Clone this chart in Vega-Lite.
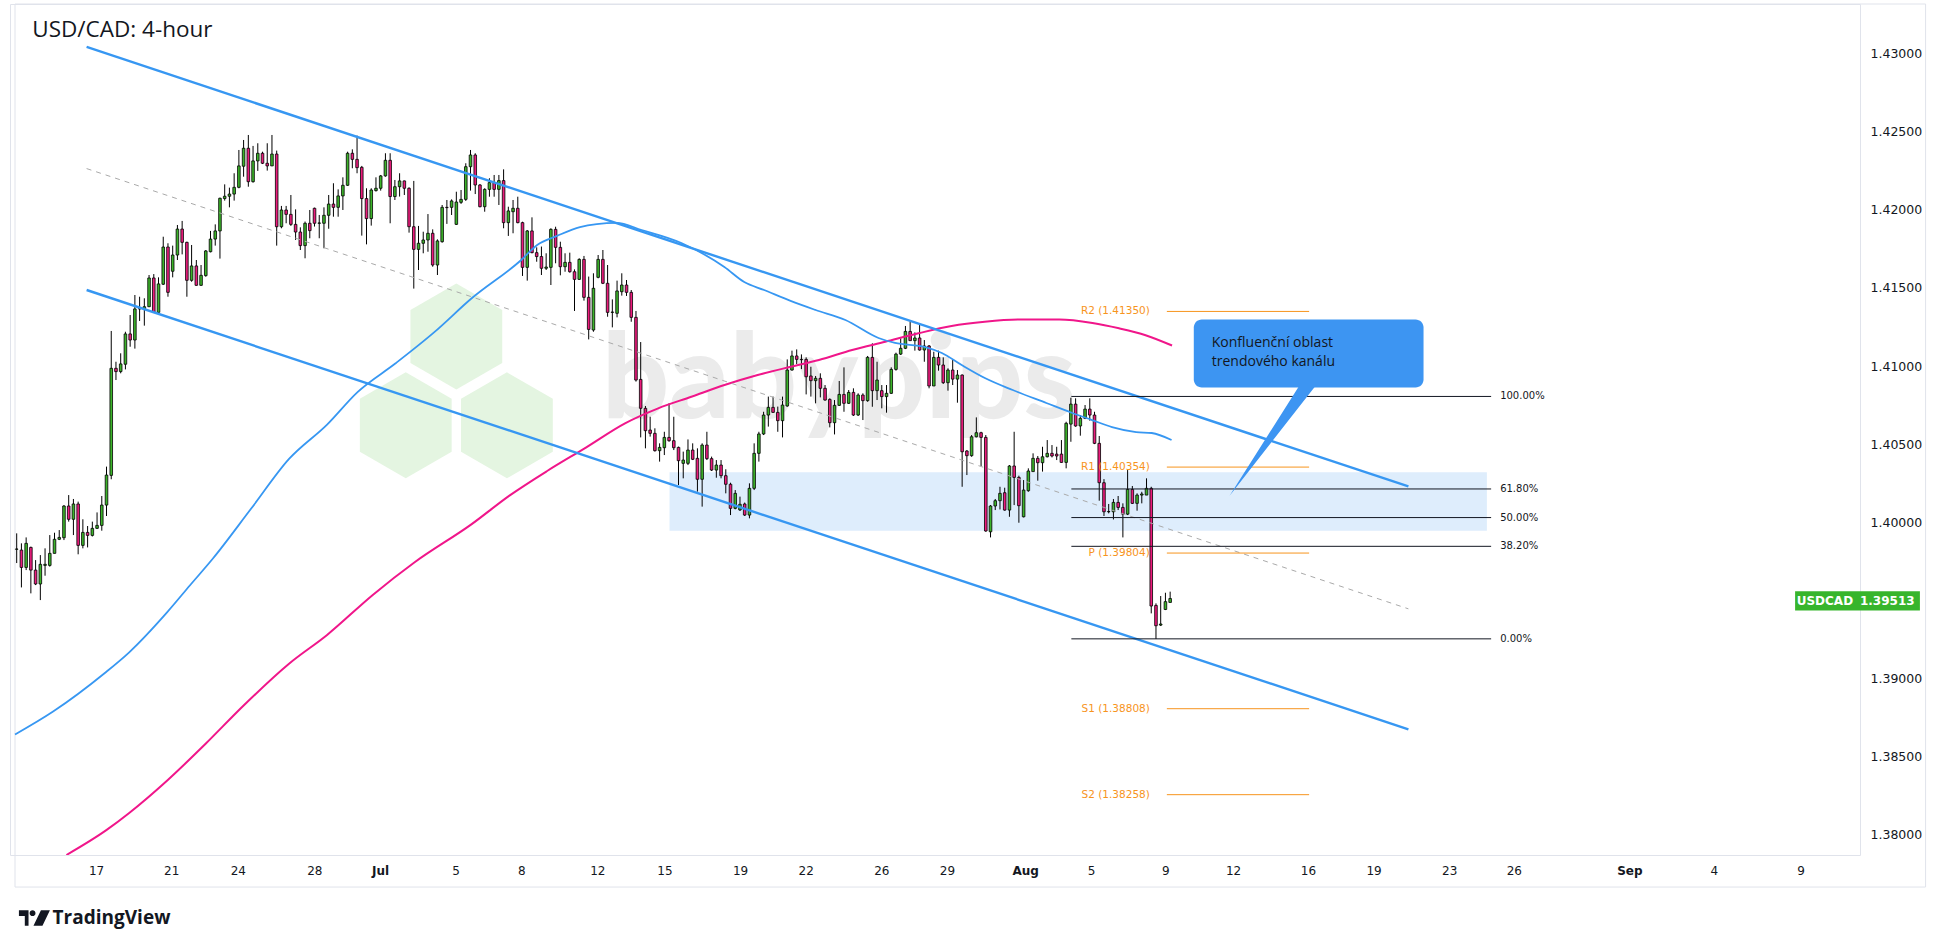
{
  "$schema": "https://vega.github.io/schema/vega-lite/v6.json",
  "width": 1850,
  "height": 851,
  "autosize": {"type": "none"},
  "padding": {"left": 10, "top": 4, "right": 80, "bottom": 93},
  "background": "#ffffff",
  "config": {
    "view": {"stroke": "#e0e3eb", "strokeWidth": 1},
    "font": "DejaVu Sans"
  },
  "datasets": {
    "frame": [{"k": -0.358, "k2": 403.8, "p": 1.43317, "p2": 1.37667}],
    "zone": [{"k": 138.1, "k2": 311.0, "p": 1.40321, "p2": 1.39947}],
    "hex": [{"k": 93.0, "p": 1.41189}, {"k": 82.3, "p": 1.40621}, {"k": 103.7, "p": 1.40621}],
    "mark": [{"k": 173.9, "p": 1.40668, "text": "babypips"}],
    "candles": [
      {"k":0,"o":1.39828,"h":1.3993,"l":1.3974,"c":1.3983},
      {"k":1,"o":1.39823,"h":1.39866,"l":1.39584,"c":1.39712},
      {"k":2,"o":1.39712,"h":1.39904,"l":1.39695,"c":1.39866},
      {"k":3,"o":1.3984,"h":1.39845,"l":1.39546,"c":1.39695},
      {"k":4,"o":1.39695,"h":1.39759,"l":1.39599,"c":1.39606},
      {"k":5,"o":1.39606,"h":1.39791,"l":1.39503,"c":1.39732},
      {"k":6,"o":1.39725,"h":1.39834,"l":1.39659,"c":1.39732},
      {"k":7,"o":1.39725,"h":1.39919,"l":1.39717,"c":1.39802},
      {"k":8,"o":1.39802,"h":1.39934,"l":1.39802,"c":1.39892},
      {"k":9,"o":1.39892,"h":1.39951,"l":1.39887,"c":1.39904},
      {"k":10,"o":1.39902,"h":1.40111,"l":1.39887,"c":1.40105},
      {"k":11,"o":1.40105,"h":1.40175,"l":1.40005,"c":1.4002},
      {"k":12,"o":1.4002,"h":1.4015,"l":1.39919,"c":1.40118},
      {"k":13,"o":1.40118,"h":1.40133,"l":1.39796,"c":1.39853},
      {"k":14,"o":1.39853,"h":1.4002,"l":1.39834,"c":1.39936},
      {"k":15,"o":1.39936,"h":1.39977,"l":1.3984,"c":1.39917},
      {"k":16,"o":1.39917,"h":1.40005,"l":1.3991,"c":1.39962},
      {"k":17,"o":1.39962,"h":1.40064,"l":1.39958,"c":1.39981},
      {"k":18,"o":1.39981,"h":1.40169,"l":1.39947,"c":1.40111},
      {"k":19,"o":1.40111,"h":1.40357,"l":1.40041,"c":1.40303},
      {"k":20,"o":1.40301,"h":1.41225,"l":1.40276,"c":1.40986},
      {"k":21,"o":1.40986,"h":1.41028,"l":1.40911,"c":1.40965},
      {"k":22,"o":1.40965,"h":1.41082,"l":1.40954,"c":1.41014},
      {"k":23,"o":1.41012,"h":1.4122,"l":1.40979,"c":1.41206},
      {"k":24,"o":1.41206,"h":1.41327,"l":1.41124,"c":1.41167},
      {"k":25,"o":1.41167,"h":1.41455,"l":1.41112,"c":1.41366},
      {"k":26,"o":1.41366,"h":1.41444,"l":1.41289,"c":1.41368},
      {"k":27,"o":1.41366,"h":1.41434,"l":1.41259,"c":1.4138},
      {"k":28,"o":1.4138,"h":1.41583,"l":1.41378,"c":1.41564},
      {"k":29,"o":1.41564,"h":1.41589,"l":1.41342,"c":1.41344},
      {"k":30,"o":1.41344,"h":1.41568,"l":1.41342,"c":1.41526},
      {"k":31,"o":1.41524,"h":1.41828,"l":1.41519,"c":1.41762},
      {"k":32,"o":1.41762,"h":1.41786,"l":1.41444,"c":1.41472},
      {"k":33,"o":1.41607,"h":1.41771,"l":1.41568,"c":1.41711},
      {"k":34,"o":1.41711,"h":1.41903,"l":1.41679,"c":1.41877},
      {"k":35,"o":1.41877,"h":1.41929,"l":1.41715,"c":1.41792},
      {"k":36,"o":1.41792,"h":1.41796,"l":1.41444,"c":1.41549},
      {"k":37,"o":1.41549,"h":1.41775,"l":1.4154,"c":1.41641},
      {"k":38,"o":1.41641,"h":1.41679,"l":1.41515,"c":1.41517},
      {"k":39,"o":1.41517,"h":1.41647,"l":1.41513,"c":1.41581},
      {"k":40,"o":1.41579,"h":1.41743,"l":1.41572,"c":1.41737},
      {"k":41,"o":1.41732,"h":1.41865,"l":1.41728,"c":1.41813},
      {"k":42,"o":1.41813,"h":1.41907,"l":1.41771,"c":1.41865},
      {"k":43,"o":1.41865,"h":1.42078,"l":1.41688,"c":1.42074},
      {"k":44,"o":1.42072,"h":1.42163,"l":1.42059,"c":1.42087},
      {"k":45,"o":1.42087,"h":1.42142,"l":1.42016,"c":1.42101},
      {"k":46,"o":1.42101,"h":1.42234,"l":1.42059,"c":1.42144},
      {"k":47,"o":1.42144,"h":1.42383,"l":1.42138,"c":1.42281},
      {"k":48,"o":1.42279,"h":1.42447,"l":1.42212,"c":1.42394},
      {"k":49,"o":1.42394,"h":1.42479,"l":1.42148,"c":1.4218},
      {"k":50,"o":1.4218,"h":1.42409,"l":1.42174,"c":1.42313},
      {"k":51,"o":1.42313,"h":1.42426,"l":1.42249,"c":1.42362},
      {"k":52,"o":1.42362,"h":1.42372,"l":1.42293,"c":1.42298},
      {"k":53,"o":1.42298,"h":1.42426,"l":1.42251,"c":1.42281},
      {"k":54,"o":1.42281,"h":1.42479,"l":1.42281,"c":1.42357},
      {"k":55,"o":1.42357,"h":1.42379,"l":1.41771,"c":1.41892},
      {"k":56,"o":1.41892,"h":1.42025,"l":1.41882,"c":1.41999},
      {"k":57,"o":1.41999,"h":1.42025,"l":1.41914,"c":1.41971},
      {"k":58,"o":1.41971,"h":1.42095,"l":1.41897,"c":1.41907},
      {"k":59,"o":1.41907,"h":1.42003,"l":1.41807,"c":1.41858},
      {"k":60,"o":1.41858,"h":1.41888,"l":1.41743,"c":1.41771},
      {"k":61,"o":1.41771,"h":1.41925,"l":1.4169,"c":1.41914},
      {"k":62,"o":1.41914,"h":1.41999,"l":1.41818,"c":1.41867},
      {"k":63,"o":1.4201,"h":1.42014,"l":1.41893,"c":1.41914},
      {"k":64,"o":1.41914,"h":1.41967,"l":1.41818,"c":1.41916},
      {"k":65,"o":1.41914,"h":1.42016,"l":1.41754,"c":1.41965},
      {"k":66,"o":1.41965,"h":1.42095,"l":1.41879,"c":1.42037},
      {"k":67,"o":1.42037,"h":1.4217,"l":1.41956,"c":1.42016},
      {"k":68,"o":1.42016,"h":1.42131,"l":1.41956,"c":1.42089},
      {"k":69,"o":1.42089,"h":1.42208,"l":1.41999,"c":1.42157},
      {"k":70,"o":1.42157,"h":1.42372,"l":1.42153,"c":1.42362},
      {"k":71,"o":1.42362,"h":1.42387,"l":1.42266,"c":1.42323},
      {"k":72,"o":1.42323,"h":1.42475,"l":1.42234,"c":1.4227},
      {"k":73,"o":1.42272,"h":1.42281,"l":1.41835,"c":1.42072},
      {"k":74,"o":1.42072,"h":1.42138,"l":1.41779,"c":1.41944},
      {"k":75,"o":1.41944,"h":1.42138,"l":1.41899,"c":1.42127},
      {"k":76,"o":1.42123,"h":1.42208,"l":1.42117,"c":1.42138},
      {"k":77,"o":1.42138,"h":1.42223,"l":1.42123,"c":1.42217},
      {"k":78,"o":1.42217,"h":1.42362,"l":1.42212,"c":1.42317},
      {"k":79,"o":1.42317,"h":1.42362,"l":1.41914,"c":1.42085},
      {"k":80,"o":1.42085,"h":1.42191,"l":1.42063,"c":1.42148},
      {"k":81,"o":1.42148,"h":1.42234,"l":1.42085,"c":1.42185},
      {"k":82,"o":1.42185,"h":1.42187,"l":1.42095,"c":1.42138},
      {"k":83,"o":1.42138,"h":1.42144,"l":1.41854,"c":1.41892},
      {"k":84,"o":1.41892,"h":1.42185,"l":1.41496,"c":1.41747},
      {"k":85,"o":1.41747,"h":1.41897,"l":1.41615,"c":1.41786},
      {"k":86,"o":1.41786,"h":1.4186,"l":1.41722,"c":1.41807},
      {"k":87,"o":1.41807,"h":1.41973,"l":1.41732,"c":1.4185},
      {"k":88,"o":1.4185,"h":1.41875,"l":1.41636,"c":1.41647},
      {"k":89,"o":1.41647,"h":1.41811,"l":1.41583,"c":1.41801},
      {"k":90,"o":1.41796,"h":1.42031,"l":1.4179,"c":1.42016},
      {"k":91,"o":1.42016,"h":1.42063,"l":1.4191,"c":1.42014},
      {"k":92,"o":1.42016,"h":1.42067,"l":1.41967,"c":1.42057},
      {"k":93,"o":1.41907,"h":1.42116,"l":1.41903,"c":1.4205},
      {"k":94,"o":1.42048,"h":1.42127,"l":1.42038,"c":1.42067},
      {"k":95,"o":1.42067,"h":1.42298,"l":1.42057,"c":1.42276},
      {"k":96,"o":1.42276,"h":1.42383,"l":1.42123,"c":1.42351},
      {"k":97,"o":1.42351,"h":1.42362,"l":1.42101,"c":1.42159},
      {"k":98,"o":1.42159,"h":1.42165,"l":1.42016,"c":1.4202},
      {"k":99,"o":1.4202,"h":1.42138,"l":1.41988,"c":1.42131},
      {"k":100,"o":1.42131,"h":1.42202,"l":1.42084,"c":1.42174},
      {"k":101,"o":1.42174,"h":1.42223,"l":1.42084,"c":1.42131},
      {"k":102,"o":1.42131,"h":1.42223,"l":1.42031,"c":1.42187},
      {"k":103,"o":1.42187,"h":1.42259,"l":1.41882,"c":1.41918},
      {"k":104,"o":1.41918,"h":1.4202,"l":1.41833,"c":1.41993},
      {"k":105,"o":1.41988,"h":1.42063,"l":1.4185,"c":1.4201},
      {"k":106,"o":1.4201,"h":1.42084,"l":1.41914,"c":1.41918},
      {"k":107,"o":1.41918,"h":1.41924,"l":1.41577,"c":1.41632},
      {"k":108,"o":1.41632,"h":1.41871,"l":1.41547,"c":1.41865},
      {"k":109,"o":1.41865,"h":1.41952,"l":1.41722,"c":1.41726},
      {"k":110,"o":1.41726,"h":1.4176,"l":1.41668,"c":1.41701},
      {"k":111,"o":1.41701,"h":1.41765,"l":1.41583,"c":1.41626},
      {"k":112,"o":1.41626,"h":1.41722,"l":1.41615,"c":1.41634},
      {"k":113,"o":1.41632,"h":1.41882,"l":1.41519,"c":1.41875},
      {"k":114,"o":1.41875,"h":1.41892,"l":1.41658,"c":1.4176},
      {"k":115,"o":1.4176,"h":1.41796,"l":1.41581,"c":1.41636},
      {"k":116,"o":1.41636,"h":1.41722,"l":1.41604,"c":1.41664},
      {"k":117,"o":1.41664,"h":1.41726,"l":1.41598,"c":1.41604},
      {"k":118,"o":1.41604,"h":1.41619,"l":1.41353,"c":1.41555},
      {"k":119,"o":1.41555,"h":1.4169,"l":1.41551,"c":1.41683},
      {"k":120,"o":1.41683,"h":1.41705,"l":1.41419,"c":1.4144},
      {"k":121,"o":1.4144,"h":1.41573,"l":1.41171,"c":1.41235},
      {"k":122,"o":1.41231,"h":1.41594,"l":1.4122,"c":1.41498},
      {"k":123,"o":1.41568,"h":1.41711,"l":1.41562,"c":1.41683},
      {"k":124,"o":1.41683,"h":1.41743,"l":1.41525,"c":1.4153},
      {"k":125,"o":1.4153,"h":1.41647,"l":1.41316,"c":1.41344},
      {"k":126,"o":1.41344,"h":1.41427,"l":1.41248,"c":1.41346},
      {"k":127,"o":1.41338,"h":1.41547,"l":1.41312,"c":1.41481},
      {"k":128,"o":1.41476,"h":1.41594,"l":1.41451,"c":1.41519},
      {"k":129,"o":1.41519,"h":1.41551,"l":1.41449,"c":1.41472},
      {"k":130,"o":1.41472,"h":1.41487,"l":1.41284,"c":1.41312},
      {"k":131,"o":1.41312,"h":1.41353,"l":1.40901,"c":1.40911},
      {"k":132,"o":1.40915,"h":1.41154,"l":1.40544,"c":1.4073},
      {"k":133,"o":1.4073,"h":1.40745,"l":1.40474,"c":1.40587},
      {"k":134,"o":1.40591,"h":1.40676,"l":1.40549,"c":1.4057},
      {"k":135,"o":1.4057,"h":1.40602,"l":1.40453,"c":1.40459},
      {"k":136,"o":1.40459,"h":1.40506,"l":1.40389,"c":1.4048},
      {"k":137,"o":1.40478,"h":1.4058,"l":1.40431,"c":1.40544},
      {"k":138,"o":1.40544,"h":1.40762,"l":1.40516,"c":1.40523},
      {"k":139,"o":1.40523,"h":1.40676,"l":1.40463,"c":1.40478},
      {"k":140,"o":1.4048,"h":1.40485,"l":1.40239,"c":1.40395},
      {"k":141,"o":1.40378,"h":1.40453,"l":1.40282,"c":1.40399},
      {"k":142,"o":1.40378,"h":1.40531,"l":1.40367,"c":1.40463},
      {"k":143,"o":1.40463,"h":1.40506,"l":1.40399,"c":1.40404},
      {"k":144,"o":1.4041,"h":1.40474,"l":1.40197,"c":1.40276},
      {"k":145,"o":1.40276,"h":1.40506,"l":1.40101,"c":1.40495},
      {"k":146,"o":1.40495,"h":1.4058,"l":1.40399,"c":1.40408},
      {"k":147,"o":1.40408,"h":1.40421,"l":1.40329,"c":1.40335},
      {"k":148,"o":1.40335,"h":1.40399,"l":1.40286,"c":1.40367},
      {"k":149,"o":1.40367,"h":1.40399,"l":1.40282,"c":1.40299},
      {"k":150,"o":1.40299,"h":1.4034,"l":1.40186,"c":1.40244},
      {"k":151,"o":1.40244,"h":1.40254,"l":1.40047,"c":1.4009},
      {"k":152,"o":1.4009,"h":1.40207,"l":1.40084,"c":1.40186},
      {"k":153,"o":1.4008,"h":1.40165,"l":1.40073,"c":1.40116},
      {"k":154,"o":1.40118,"h":1.40127,"l":1.40041,"c":1.40047},
      {"k":155,"o":1.40047,"h":1.4025,"l":1.40026,"c":1.40218},
      {"k":156,"o":1.40218,"h":1.40506,"l":1.40207,"c":1.40442},
      {"k":157,"o":1.40442,"h":1.4058,"l":1.40389,"c":1.40566},
      {"k":158,"o":1.40566,"h":1.40708,"l":1.40559,"c":1.40687},
      {"k":159,"o":1.40687,"h":1.40805,"l":1.40613,"c":1.40736},
      {"k":160,"o":1.40736,"h":1.40805,"l":1.40702,"c":1.40704},
      {"k":161,"o":1.40704,"h":1.40741,"l":1.4058,"c":1.40651},
      {"k":162,"o":1.40651,"h":1.40805,"l":1.40544,"c":1.40751},
      {"k":163,"o":1.40745,"h":1.41043,"l":1.4074,"c":1.40975},
      {"k":164,"o":1.40975,"h":1.41099,"l":1.40971,"c":1.41065},
      {"k":165,"o":1.41065,"h":1.41107,"l":1.41013,"c":1.41043},
      {"k":166,"o":1.41043,"h":1.41075,"l":1.40981,"c":1.41041},
      {"k":167,"o":1.41043,"h":1.41056,"l":1.40819,"c":1.40932},
      {"k":168,"o":1.40937,"h":1.40996,"l":1.40805,"c":1.40907},
      {"k":169,"o":1.40907,"h":1.40937,"l":1.40762,"c":1.40922},
      {"k":170,"o":1.40922,"h":1.40954,"l":1.408,"c":1.40858},
      {"k":171,"o":1.40858,"h":1.40879,"l":1.40779,"c":1.40783},
      {"k":172,"o":1.40787,"h":1.40794,"l":1.40608,"c":1.40638},
      {"k":173,"o":1.40638,"h":1.40783,"l":1.40563,"c":1.40749},
      {"k":174,"o":1.40749,"h":1.40905,"l":1.40745,"c":1.40819},
      {"k":175,"o":1.40819,"h":1.40992,"l":1.40708,"c":1.40762},
      {"k":176,"o":1.40762,"h":1.40847,"l":1.40758,"c":1.40832},
      {"k":177,"o":1.40832,"h":1.40858,"l":1.40681,"c":1.40687},
      {"k":178,"o":1.40687,"h":1.40826,"l":1.40681,"c":1.40815},
      {"k":179,"o":1.40815,"h":1.40826,"l":1.40655,"c":1.40779},
      {"k":180,"o":1.40779,"h":1.41065,"l":1.40772,"c":1.41056},
      {"k":181,"o":1.41056,"h":1.41146,"l":1.4074,"c":1.40843},
      {"k":182,"o":1.40843,"h":1.41028,"l":1.40783,"c":1.40911},
      {"k":183,"o":1.40843,"h":1.40879,"l":1.4073,"c":1.40805},
      {"k":184,"o":1.40805,"h":1.40879,"l":1.40702,"c":1.40826},
      {"k":185,"o":1.40826,"h":1.40992,"l":1.40822,"c":1.40979},
      {"k":186,"o":1.40979,"h":1.41086,"l":1.40971,"c":1.41077},
      {"k":187,"o":1.41077,"h":1.41178,"l":1.41071,"c":1.41114},
      {"k":188,"o":1.41114,"h":1.41257,"l":1.41109,"c":1.41222},
      {"k":189,"o":1.41222,"h":1.41284,"l":1.41161,"c":1.41163},
      {"k":190,"o":1.41163,"h":1.41216,"l":1.41099,"c":1.4118},
      {"k":191,"o":1.4118,"h":1.41263,"l":1.41099,"c":1.41103},
      {"k":192,"o":1.41103,"h":1.41167,"l":1.41028,"c":1.41129},
      {"k":193,"o":1.41129,"h":1.41135,"l":1.40858,"c":1.40873},
      {"k":194,"o":1.40873,"h":1.41092,"l":1.40873,"c":1.41056},
      {"k":195,"o":1.41056,"h":1.41099,"l":1.40971,"c":1.41007},
      {"k":196,"o":1.41007,"h":1.41056,"l":1.40886,"c":1.40894},
      {"k":197,"o":1.40894,"h":1.40986,"l":1.40843,"c":1.40975},
      {"k":198,"o":1.40975,"h":1.41039,"l":1.40879,"c":1.40917},
      {"k":199,"o":1.40917,"h":1.40975,"l":1.40766,"c":1.40943},
      {"k":200,"o":1.40943,"h":1.40947,"l":1.40228,"c":1.40452},
      {"k":201,"o":1.40457,"h":1.40463,"l":1.40303,"c":1.40427},
      {"k":202,"o":1.40427,"h":1.40559,"l":1.4042,"c":1.40548},
      {"k":203,"o":1.40548,"h":1.40672,"l":1.40544,"c":1.40574},
      {"k":204,"o":1.40574,"h":1.4058,"l":1.40361,"c":1.40544},
      {"k":205,"o":1.40544,"h":1.40559,"l":1.3994,"c":1.39945},
      {"k":206,"o":1.3994,"h":1.40111,"l":1.39904,"c":1.40105},
      {"k":207,"o":1.40105,"h":1.4015,"l":1.40079,"c":1.40139},
      {"k":208,"o":1.40139,"h":1.40228,"l":1.40083,"c":1.40186},
      {"k":209,"o":1.4019,"h":1.40222,"l":1.40075,"c":1.40079},
      {"k":210,"o":1.40079,"h":1.40367,"l":1.40036,"c":1.40361},
      {"k":211,"o":1.40361,"h":1.4058,"l":1.40111,"c":1.40288},
      {"k":212,"o":1.40288,"h":1.40299,"l":1.39998,"c":1.40107},
      {"k":213,"o":1.40036,"h":1.40271,"l":1.40032,"c":1.40207},
      {"k":214,"o":1.40203,"h":1.40346,"l":1.40196,"c":1.40329},
      {"k":215,"o":1.40325,"h":1.40442,"l":1.40325,"c":1.4041},
      {"k":216,"o":1.4041,"h":1.40425,"l":1.40267,"c":1.40382},
      {"k":217,"o":1.40382,"h":1.40484,"l":1.40325,"c":1.4042},
      {"k":218,"o":1.4042,"h":1.40527,"l":1.40416,"c":1.40442},
      {"k":219,"o":1.40442,"h":1.40495,"l":1.40416,"c":1.40425},
      {"k":220,"o":1.40437,"h":1.40484,"l":1.40399,"c":1.40425},
      {"k":221,"o":1.40437,"h":1.40527,"l":1.40382,"c":1.40384},
      {"k":222,"o":1.40384,"h":1.40644,"l":1.40346,"c":1.40634},
      {"k":223,"o":1.40629,"h":1.40798,"l":1.40516,"c":1.40757},
      {"k":224,"o":1.40757,"h":1.40794,"l":1.40612,"c":1.40617},
      {"k":225,"o":1.40617,"h":1.40687,"l":1.40555,"c":1.40666},
      {"k":226,"o":1.40666,"h":1.40751,"l":1.40661,"c":1.40725},
      {"k":227,"o":1.40725,"h":1.40794,"l":1.40651,"c":1.40687},
      {"k":228,"o":1.40687,"h":1.40708,"l":1.40501,"c":1.40506},
      {"k":229,"o":1.40506,"h":1.40553,"l":1.40139,"c":1.40254},
      {"k":230,"o":1.40254,"h":1.40277,"l":1.40041,"c":1.40068},
      {"k":231,"o":1.40068,"h":1.40118,"l":1.40058,"c":1.4007},
      {"k":232,"o":1.40068,"h":1.4015,"l":1.40019,"c":1.40128},
      {"k":233,"o":1.40128,"h":1.40169,"l":1.40079,"c":1.40096},
      {"k":234,"o":1.40096,"h":1.40122,"l":1.39904,"c":1.40053},
      {"k":235,"o":1.40053,"h":1.40335,"l":1.40047,"c":1.40211},
      {"k":236,"o":1.40211,"h":1.40233,"l":1.40118,"c":1.40122},
      {"k":237,"o":1.40122,"h":1.40186,"l":1.40075,"c":1.40175},
      {"k":238,"o":1.40175,"h":1.40196,"l":1.40122,"c":1.40182},
      {"k":239,"o":1.40175,"h":1.40282,"l":1.40175,"c":1.40218},
      {"k":240,"o":1.40218,"h":1.40228,"l":1.39418,"c":1.39465},
      {"k":241,"o":1.39469,"h":1.39482,"l":1.39254,"c":1.39339},
      {"k":242,"o":1.39343,"h":1.39529,"l":1.39337,"c":1.3935},
      {"k":243,"o":1.39443,"h":1.3955,"l":1.39439,"c":1.39493},
      {"k":244,"o":1.39488,"h":1.39557,"l":1.39488,"c":1.39513}
    ],
    "ma100": [
      {"k":-0.36,"p":1.38643},{"k":7.7,"p":1.3879},{"k":18.58,"p":1.39035},{"k":23.8,"p":1.39169},
      {"k":31.85,"p":1.39426},{"k":36.67,"p":1.39598},{"k":41.51,"p":1.39769},{"k":49.57,"p":1.40087},
      {"k":57.61,"p":1.40406},{"k":65.66,"p":1.40626},{"k":72.1,"p":1.40834},{"k":80.16,"p":1.41018},
      {"k":88.22,"p":1.41214},{"k":96.25,"p":1.41434},{"k":106.73,"p":1.41679},{"k":110.1,"p":1.41775},
      {"k":114.3,"p":1.41833},{"k":119.15,"p":1.4189},{"k":122.7,"p":1.41909},{"k":126.9,"p":1.41916},
      {"k":132.2,"p":1.41871},{"k":140.6,"p":1.41788},{"k":149.7,"p":1.41634},{"k":153.9,"p":1.41538},
      {"k":158.1,"p":1.41487},{"k":163.7,"p":1.41417},{"k":169.0,"p":1.41359},{"k":175.3,"p":1.41295},
      {"k":182.3,"p":1.4118},{"k":185.8,"p":1.41148},{"k":192.2,"p":1.41122},{"k":195.7,"p":1.41084},
      {"k":199.9,"p":1.41007},{"k":204.8,"p":1.40924},{"k":210.7,"p":1.40847},{"k":217.8,"p":1.40764},
      {"k":223.3,"p":1.407},{"k":227.5,"p":1.40655},{"k":231.7,"p":1.4061},{"k":236.8,"p":1.40578},
      {"k":240.1,"p":1.40572},{"k":244.3,"p":1.40527}
    ],
    "ma200": [
      {"k":10.52,"p":1.37872},{"k":18.96,"p":1.38031},{"k":23.8,"p":1.38141},{"k":31.85,"p":1.38349},
      {"k":39.91,"p":1.38582},{"k":47.95,"p":1.38827},{"k":57.61,"p":1.39096},{"k":65.66,"p":1.3928},
      {"k":75.32,"p":1.39536},{"k":84.18,"p":1.39745},{"k":96.25,"p":1.39989},{"k":104.31,"p":1.40173},
      {"k":112.37,"p":1.40332},{"k":120.41,"p":1.40479},{"k":128.68,"p":1.40634},{"k":135.7,"p":1.4073},
      {"k":142.71,"p":1.40804},{"k":149.72,"p":1.40879},{"k":156.74,"p":1.40943},{"k":163.75,"p":1.40996},
      {"k":169.7,"p":1.41039},{"k":176.73,"p":1.41103},{"k":183.74,"p":1.41156},{"k":190.75,"p":1.4121},
      {"k":197.77,"p":1.41257},{"k":204.78,"p":1.41284},{"k":212.14,"p":1.41298},{"k":220.56,"p":1.41298},
      {"k":227.56,"p":1.41276},{"k":233.18,"p":1.41242},{"k":238.8,"p":1.41198},{"k":244.4,"p":1.41132}
    ],
    "channel": [
      {"k":14.79,"p":1.43042,"k2":294.4,"p2":1.4023},
      {"k":14.79,"p":1.41487,"k2":294.4,"p2":1.38676}
    ],
    "midline": [{"k":14.79,"p":1.42264,"k2":294.4,"p2":1.39447}],
    "fib": [
      {"k":223.1,"k2":311.9,"p":1.40806},
      {"k":223.1,"k2":311.9,"p":1.40214},
      {"k":223.1,"k2":311.9,"p":1.40031},
      {"k":223.1,"k2":311.9,"p":1.39847},
      {"k":223.1,"k2":311.9,"p":1.39255}
    ],
    "fiblabels": [
      {"k":311.9,"p":1.40806,"label":"100.00%"},
      {"k":311.9,"p":1.40214,"label":"61.80%"},
      {"k":311.9,"p":1.40031,"label":"50.00%"},
      {"k":311.9,"p":1.39847,"label":"38.20%"},
      {"k":311.9,"p":1.39255,"label":"0.00%"}
    ],
    "pivots": [
      {"k":243.3,"k2":273.4,"p":1.4135,"label":"R2 (1.41350)"},
      {"k":243.3,"k2":273.4,"p":1.40354,"label":"R1 (1.40354)"},
      {"k":243.3,"k2":273.4,"p":1.39804,"label":"P (1.39804)"},
      {"k":243.3,"k2":273.4,"p":1.38808,"label":"S1 (1.38808)"},
      {"k":243.3,"k2":273.4,"p":1.38258,"label":"S2 (1.38258)"}
    ],
    "callout": [{"k":249.0,"k2":297.6,"p":1.41298,"p2":1.40864}],
    "pointer": [
      {"k":256.54,"p":1.40169,"p2":1.40169},
      {"k":271.41,"p":1.4088,"p2":1.40745},
      {"k":274.9,"p":1.4088,"p2":1.4088}
    ],
    "callouttext": [
      {"k":252.8,"p":1.41148,"text":"Konfluenční oblast"},
      {"k":252.8,"p":1.41027,"text":"trendového kanálu"}
    ],
    "tags": [
      {"k":376.2,"k2":388.87,"p":1.39559,"p2":1.39436},
      {"k":388.87,"k2":402.6,"p":1.39559,"p2":1.39436}
    ],
    "tagtext": [
      {"k":382.5,"p":1.39497,"text":"USDCAD"},
      {"k":395.7,"p":1.39497,"text":"1.39513"}
    ],
    "title": [{"k":3.3,"p":1.4315,"text":"USD/CAD: 4-hour"}],
    "logo": [{"k":3.75,"p":1.37469}],
    "logotext": [{"k":7.6,"p":1.37469,"text":"TradingView"}]
  },
  "encoding": {
    "x": {
      "field": "k", "type": "quantitative",
      "scale": {"domain": [-0.358, 388.87], "nice": false, "zero": false},
      "axis": {
        "orient": "bottom", "title": null, "grid": false, "ticks": false, "domain": false,
        "values": [16.79, 32.67, 46.77, 62.97, 76.85, 92.84, 106.73, 122.83, 137.03, 153.02, 166.9, 182.89, 196.78, 213.34, 227.25, 243, 257.31, 273.15, 287.04, 303.03, 316.71, 341.15, 359.03, 377.34],
        "labelExpr": "['17','21','24','28','Jul','5','8','12','15','19','22','26','29','Aug','5','9','12','16','19','23','26','Sep','4','9'][indexof([16.79, 32.67, 46.77, 62.97, 76.85, 92.84, 106.73, 122.83, 137.03, 153.02, 166.9, 182.89, 196.78, 213.34, 227.25, 243, 257.31, 273.15, 287.04, 303.03, 316.71, 341.15, 359.03, 377.34], datum.value)]",
        "labelFont": "DejaVu Sans", "labelFontSize": 12, "labelColor": "#131722",
        "labelPadding": 10, "labelOverlap": false, "labelFlush": false, "labelBound": false,
        "labelFontWeight": {"condition": {"test": "datum.value == 76.85 || datum.value == 213.34 || datum.value == 341.15", "value": "bold"}, "value": "normal"}
      }
    },
    "y": {
      "field": "p", "type": "quantitative",
      "scale": {"domain": [1.37872, 1.43317], "nice": false, "zero": false},
      "axis": {
        "orient": "right", "title": null, "grid": false, "ticks": false, "domain": false,
        "values": [1.38, 1.385, 1.39, 1.4, 1.405, 1.41, 1.415, 1.42, 1.425, 1.43],
        "format": ".5f",
        "labelFont": "DejaVu Sans", "labelFontSize": 12.5, "labelColor": "#131722",
        "labelPadding": 10, "labelOverlap": false, "labelFlush": false, "labelBound": false
      }
    }
  },
  "layer": [
    {
      "data": {"name": "frame"},
      "mark": {"type": "rect", "fill": "#ffffff", "fillOpacity": 0, "stroke": "#e0e3eb", "strokeWidth": 1, "clip": false},
      "encoding": {"x2": {"field": "k2"}, "y2": {"field": "p2"}}
    },
    {
      "data": {"name": "zone"},
      "mark": {"type": "rect", "fill": "#deedfc"},
      "encoding": {"x2": {"field": "k2"}, "y2": {"field": "p2"}}
    },
    {
      "data": {"name": "hex"},
      "mark": {"type": "point", "filled": true, "shape": "M0,-1L0.866,-0.5L0.866,0.5L0,1L-0.866,0.5L-0.866,-0.5Z", "size": 11236, "color": "#e4f5e1", "opacity": 1}
    },
    {
      "data": {"name": "mark"},
      "mark": {"type": "text", "font": "Lato", "fontWeight": 900, "fontSize": 118, "color": "#ebebeb", "align": "center", "baseline": "alphabetic"},
      "encoding": {"text": {"field": "text"}}
    },
    {
      "data": {"name": "candles"},
      "mark": {"type": "rule", "color": "#000000", "strokeWidth": 1},
      "encoding": {
        "y": {
          "field": "h", "type": "quantitative",
          "scale": {"domain": [1.37872, 1.43317], "nice": false, "zero": false},
          "axis": {
            "orient": "right", "title": null, "grid": false, "ticks": false, "domain": false,
            "values": [1.38, 1.385, 1.39, 1.4, 1.405, 1.41, 1.415, 1.42, 1.425, 1.43],
            "format": ".5f",
            "labelFont": "DejaVu Sans", "labelFontSize": 12.5, "labelColor": "#131722",
            "labelPadding": 10, "labelOverlap": false, "labelFlush": false, "labelBound": false
          }
        },
        "y2": {"field": "l"}
      }
    },
    {
      "data": {"name": "candles"},
      "mark": {"type": "bar", "size": 2.6, "stroke": "#000000", "strokeWidth": 0.8},
      "encoding": {
        "y": {
          "field": "o", "type": "quantitative",
          "scale": {"domain": [1.37872, 1.43317], "nice": false, "zero": false},
          "axis": {
            "orient": "right", "title": null, "grid": false, "ticks": false, "domain": false,
            "values": [1.38, 1.385, 1.39, 1.4, 1.405, 1.41, 1.415, 1.42, 1.425, 1.43],
            "format": ".5f",
            "labelFont": "DejaVu Sans", "labelFontSize": 12.5, "labelColor": "#131722",
            "labelPadding": 10, "labelOverlap": false, "labelFlush": false, "labelBound": false
          }
        },
        "y2": {"field": "c"},
        "fill": {"condition": {"test": "datum.c >= datum.o", "value": "#3cb32a"}, "value": "#ea1c7c"}
      }
    },
    {
      "data": {"name": "ma200"},
      "mark": {"type": "line", "color": "#f0168a", "strokeWidth": 2, "interpolate": "monotone", "clip": true},
      "encoding": {}
    },
    {
      "data": {"name": "ma100"},
      "mark": {"type": "line", "color": "#3797f2", "strokeWidth": 1.8, "interpolate": "monotone", "clip": true},
      "encoding": {}
    },
    {
      "data": {"name": "midline"},
      "mark": {"type": "rule", "color": "#aaaaaa", "strokeWidth": 1, "strokeDash": [5, 5]},
      "encoding": {"x2": {"field": "k2"}, "y2": {"field": "p2"}}
    },
    {
      "data": {"name": "channel"},
      "mark": {"type": "rule", "color": "#3797f2", "strokeWidth": 2.4},
      "encoding": {"x2": {"field": "k2"}, "y2": {"field": "p2"}}
    },
    {
      "data": {"name": "fib"},
      "mark": {"type": "rule", "color": "#131722", "strokeWidth": 1},
      "encoding": {"x2": {"field": "k2"}}
    },
    {
      "data": {"name": "fiblabels"},
      "mark": {"type": "text", "font": "DejaVu Sans", "fontSize": 10, "color": "#131722", "align": "left", "baseline": "middle", "dx": 9},
      "encoding": {"text": {"field": "label"}}
    },
    {
      "data": {"name": "pivots"},
      "mark": {"type": "rule", "color": "#f7941d", "strokeWidth": 1},
      "encoding": {"x2": {"field": "k2"}}
    },
    {
      "data": {"name": "pivots"},
      "mark": {"type": "text", "font": "DejaVu Sans", "fontSize": 10.5, "color": "#f7941d", "align": "right", "baseline": "middle", "dx": -17},
      "encoding": {"text": {"field": "label"}}
    },
    {
      "data": {"name": "callout"},
      "mark": {"type": "rect", "fill": "#3d95f2", "cornerRadius": 8},
      "encoding": {"x2": {"field": "k2"}, "y2": {"field": "p2"}}
    },
    {
      "data": {"name": "pointer"},
      "mark": {"type": "area", "fill": "#3d95f2", "interpolate": "linear"},
      "encoding": {"y2": {"field": "p2"}}
    },
    {
      "data": {"name": "callouttext"},
      "mark": {"type": "text", "font": "Open Sans", "fontSize": 14, "color": "#131722", "align": "left", "baseline": "middle"},
      "encoding": {"text": {"field": "text"}}
    },
    {
      "data": {"name": "tags"},
      "mark": {"type": "rect", "fill": "#37b52c", "clip": false},
      "encoding": {"x2": {"field": "k2"}, "y2": {"field": "p2"}}
    },
    {
      "data": {"name": "tagtext"},
      "mark": {"type": "text", "font": "DejaVu Sans", "fontSize": 12, "fontWeight": "bold", "color": "#ffffff", "align": "center", "baseline": "middle", "clip": false},
      "encoding": {"text": {"field": "text"}}
    },
    {
      "data": {"name": "title"},
      "mark": {"type": "text", "font": "Open Sans", "fontSize": 22.5, "color": "#131722", "align": "left", "baseline": "middle"},
      "encoding": {"text": {"field": "text"}}
    },
    {
      "data": {"name": "logo"},
      "mark": {"type": "point", "filled": true, "clip": false, "color": "#131722", "opacity": 1, "size": 961,
        "shape": "M-1,-0.5L-0.38,-0.5L-0.38,0.5L-0.62,0.5L-0.62,-0.12L-1,-0.12Z M-0.12,-0.5A0.19,0.19 0 1 0 -0.12,-0.12A0.19,0.19 0 1 0 -0.12,-0.5Z M0.42,-0.5L1,-0.5L0.52,0.5L-0.06,0.5Z"}
    },
    {
      "data": {"name": "logotext"},
      "mark": {"type": "text", "font": "Open Sans", "fontSize": 19, "fontWeight": "bold", "color": "#131722", "align": "left", "baseline": "middle", "clip": false},
      "encoding": {"text": {"field": "text"}}
    }
  ]
}
